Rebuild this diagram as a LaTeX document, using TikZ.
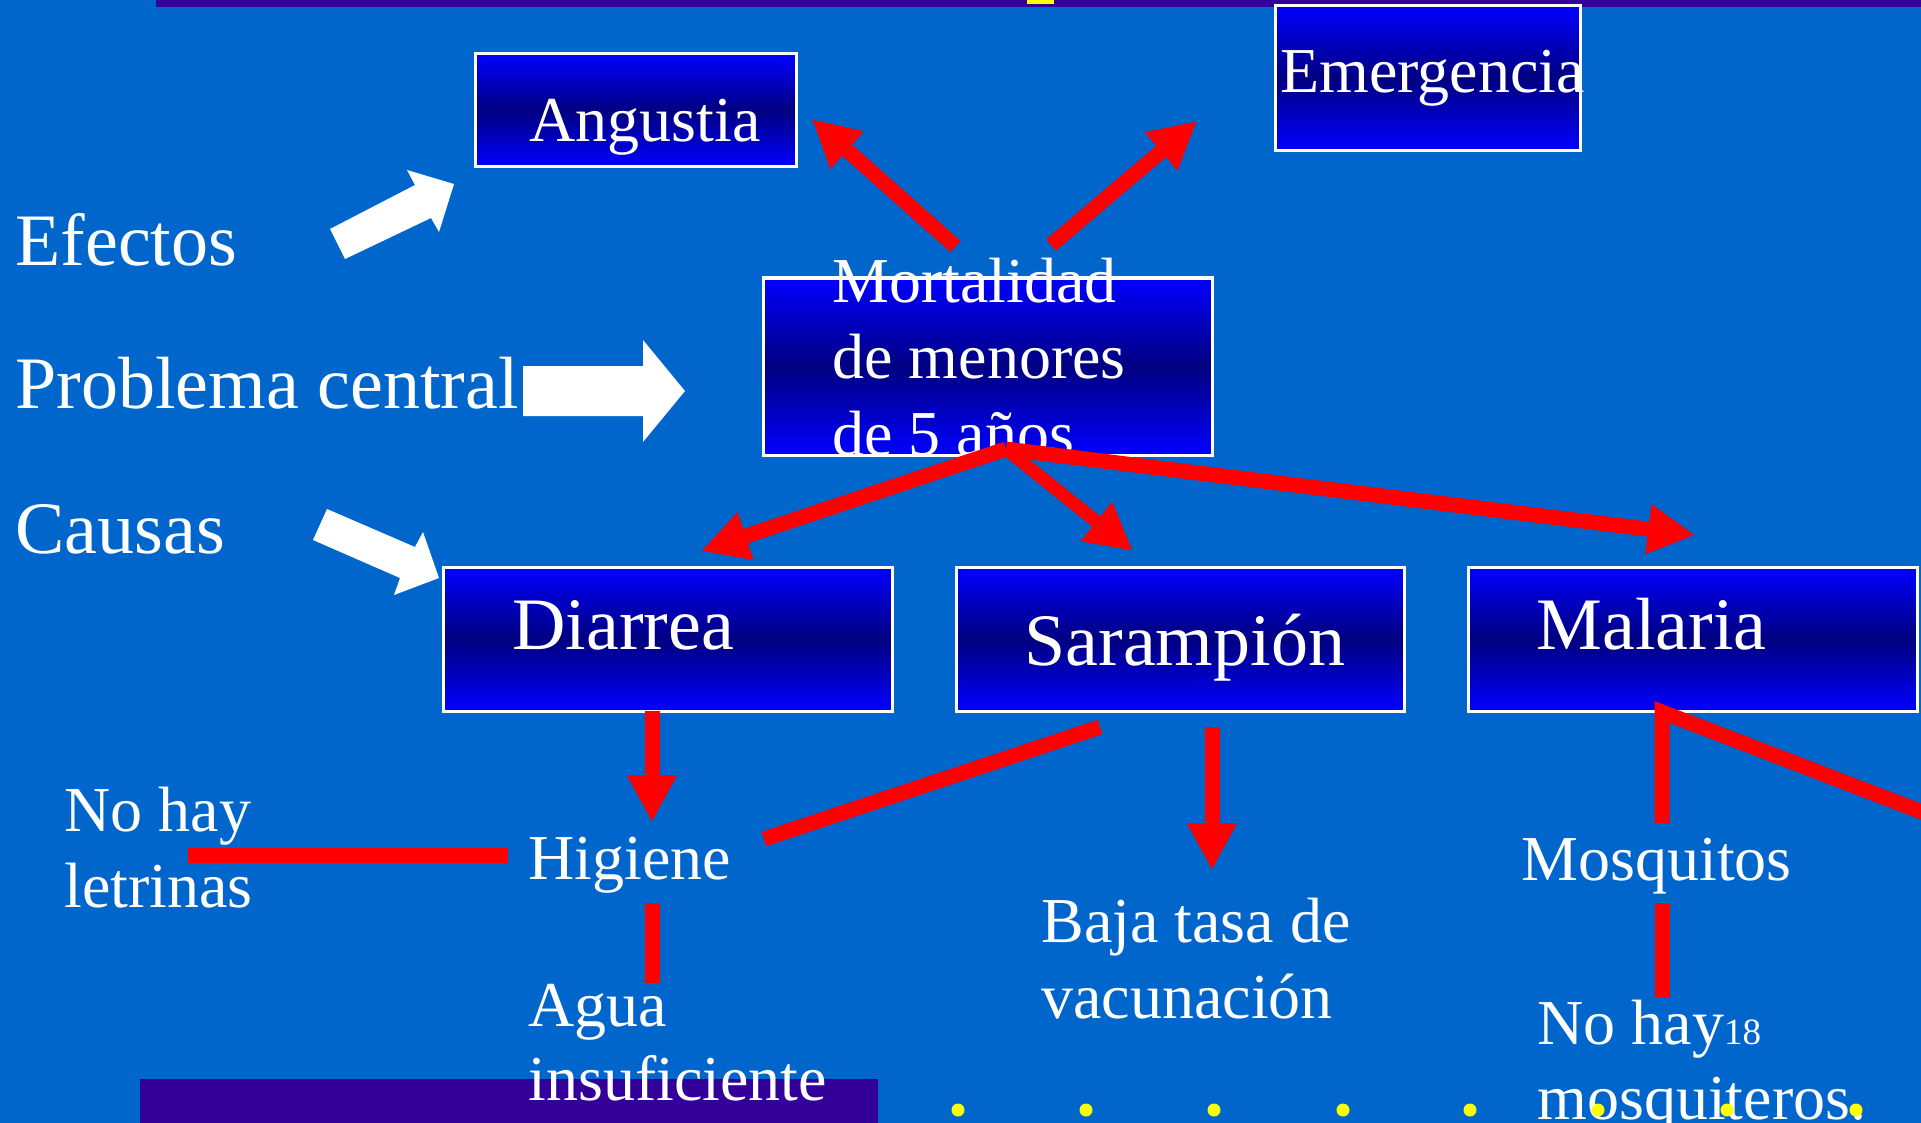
\documentclass[tikz,border=0pt]{standalone}
\usepackage{fontspec}
\setmainfont{Liberation Serif}
\usetikzlibrary{arrows.meta}
\definecolor{bgblue}{RGB}{0,102,204}
\definecolor{barpurple}{RGB}{51,0,153}
\definecolor{boxblue}{RGB}{0,0,255}
\definecolor{boxnavy}{RGB}{0,0,128}
\definecolor{redline}{RGB}{255,0,0}
\definecolor{dotyellow}{RGB}{255,255,0}
\begin{document}
\begin{tikzpicture}[x=0.5pt,y=-0.5pt,
  box/.style={draw=white, line width=1.5pt, rectangle, inner sep=0pt,
    top color=boxblue, bottom color=boxblue, middle color=boxnavy},
  bigtxt/.style={text=white, font=\fontsize{37pt}{44pt}\selectfont, anchor=base west, inner sep=0pt},
  midtxt/.style={text=white, font=\fontsize{32pt}{38pt}\selectfont, anchor=base west, inner sep=0pt},
  redarrow/.style={draw=redline, line width=7.5pt, -{Triangle[length=23.5pt,width=23.5pt]}},
  redbar/.style={draw=redline, line width=7.5pt, line join=miter},
  whitearrow/.style={fill=white, draw=none},
  ydot/.style={circle, fill=dotyellow, minimum size=6.5pt, inner sep=0pt}]

\path[use as bounding box] (0,0) rectangle (1921,1123);
\clip (0,0) rectangle (1921,1123);
\fill[bgblue] (0,0) rectangle (1921,1123);

% bars
\fill[barpurple] (156,0) rectangle (1921,7);
\fill[dotyellow] (1027,0) rectangle (1054,4);
\fill[barpurple] (140,1079) rectangle (878,1123);

% boxes
\node[box, minimum width=160.5pt, minimum height=56.5pt] (angustia) at (635.5,110.5) {};
\node[box, minimum width=152.5pt, minimum height=72.5pt] (emergencia) at (1427.5,78.5) {};
\node[box, minimum width=224.5pt, minimum height=88.5pt] (mortalidad) at (987.5,366.5) {};
\node[box, minimum width=224.5pt, minimum height=72pt] (diarrea) at (667.5,639) {};
\node[box, minimum width=224pt, minimum height=72pt] (sarampion) at (1180,639) {};
\node[box, minimum width=224.5pt, minimum height=72pt] (malaria) at (1692.5,639) {};

% left labels
\node[bigtxt] (efectos) at (15,265) {Efectos};
\node[bigtxt] (problema) at (15,408) {Problema central};
\node[bigtxt] (causas) at (15,553) {Causas};

% box texts
\node[midtxt] (tAngustia) at (529,142) {Angustia};
\node[midtxt] (tEmergencia) at (1280,93) {Emergencia};
\node[midtxt] (tMort1) at (832,302) {Mortalidad};
\node[midtxt] (tMort2) at (832,378) {de menores};
\node[midtxt] (tMort3) at (832,455) {de 5 años};
\node[bigtxt] (tDiarrea) at (512,649) {Diarrea};
\node[bigtxt] (tSarampion) at (1024,665) {Sarampión};
\node[bigtxt] (tMalaria) at (1536,649) {Malaria};

% lower texts
\node[midtxt] (letr1) at (64,831) {No hay};
\node[midtxt] (letr2) at (64,907) {letrinas};
\node[midtxt] (higiene) at (528,879) {Higiene};
\node[midtxt] (agua1) at (528,1026) {Agua};
\node[midtxt] (agua2) at (528,1100) {insuficiente};
\node[midtxt] (baja1) at (1041,942) {Baja tasa de};
\node[midtxt] (baja2) at (1041,1018) {vacunación};
\node[midtxt] (mosq) at (1521,880) {Mosquitos};
\node[midtxt] (mosqn1) at (1537,1044) {No hay{\fontsize{18.5pt}{20pt}\selectfont 18}};
\node[midtxt] (mosqn2) at (1537,1119) {mosquiteros.};

% connector end points
\coordinate (mTopL) at (955.5,246.5);
\coordinate (aTip) at (812,119);
\coordinate (mTopR) at (1051,245);
\coordinate (eTip) at (1197,121);
\coordinate (mBot) at (1006,449);
\coordinate (dTip) at (701,551);
\coordinate (sTip) at (1133,551);
\coordinate (maTip) at (1695,535);
\coordinate (dBot) at (652,711);
\coordinate (hTip) at (652,822);
\coordinate (sBot) at (1212,727);
\coordinate (bTip) at (1212,870);
\coordinate (lEnd) at (188,855);
\coordinate (hLeft) at (508,855);
\coordinate (hBot) at (652,903);
\coordinate (aTop) at (652,983);
\coordinate (sLeft) at (1100,727);
\coordinate (hRight) at (764,839);
\coordinate (mosqTop) at (1662,823);
\coordinate (maBot) at (1662,712);
\coordinate (maOut) at (1935,817);
\coordinate (mosqBot) at (1662,903);
\coordinate (nhTop) at (1662,998);

% red connectors
\draw[redarrow] (mTopL) -- (aTip);
\draw[redarrow] (mTopR) -- (eTip);
\draw[redarrow] (mBot) -- (dTip);
\draw[redarrow, line width=6.5pt] (mBot) -- (sTip);
\draw[redarrow] (mBot) -- (maTip);
\draw[redarrow] (dBot) -- (hTip);
\draw[redarrow] (sBot) -- (bTip);
\draw[redbar] (lEnd) -- (hLeft);
\draw[redbar] (hBot) -- (aTop);
\draw[redbar] (sLeft) -- (hRight);
\draw[redbar] (mosqTop) -- (maBot) -- (maOut);
\draw[redbar] (mosqBot) -- (nhTop);

% white block arrows
\fill[whitearrow] (330,229) -- (415,185) -- (407,170) -- (454,184) -- (439,232) -- (431,218) -- (345,259) -- cycle;
\fill[whitearrow] (523,366) -- (643,366) -- (643,340) -- (685,391) -- (643,442) -- (643,416) -- (523,416) -- cycle;
\fill[whitearrow] (327,509) -- (415,547) -- (423,532) -- (439,578) -- (394,595) -- (400,578) -- (313,540) -- cycle;

% yellow dots
\foreach \xx [count=\i] in {958,1086,1214,1343,1470,1598,1727,1856}
  \node[ydot] (dot\i) at (\xx,1110) {};
\end{tikzpicture}
\end{document}
